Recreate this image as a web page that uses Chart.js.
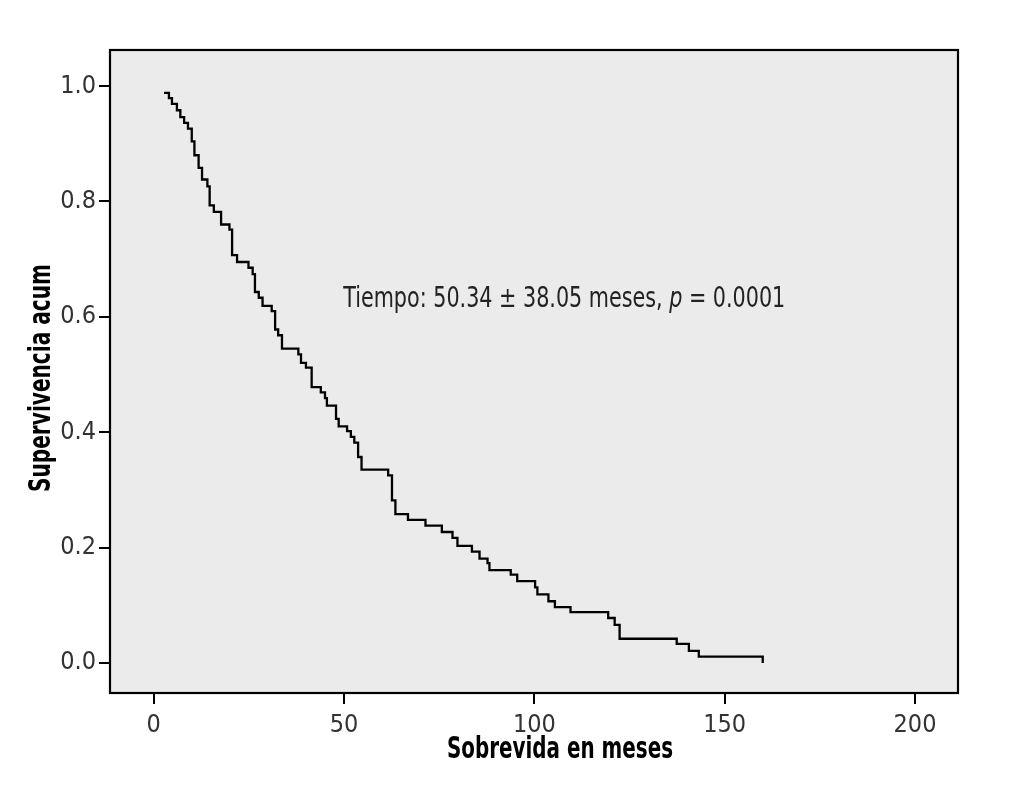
<!DOCTYPE html>
<html>
<head>
<meta charset="utf-8">
<script src="https://cdn.jsdelivr.net/npm/chart.js@4/dist/chart.umd.min.js"></script>
<style>
  html, body { margin: 0; padding: 0; background: #ffffff; }
  #wrap { width: 1029px; height: 795px; position: relative; }
</style>
</head>
<body>
<div id="wrap"><canvas id="c" width="1029" height="795"></canvas></div>
<script>
// Kaplan-Meier step curve (months, cumulative survival)
const months = [2.7, 4.0, 4.8, 6.1, 7.0, 8.0, 9.0, 10.0, 10.7, 11.8, 12.7, 14.1, 14.7, 15.8, 17.7, 19.9, 20.6, 21.9, 24.9, 26.0,
  26.6, 27.6, 28.6, 31.0, 31.9, 32.7, 33.7, 38.0, 38.7, 40.0, 41.5, 43.9, 45.0, 45.5, 47.9, 48.6, 50.8, 51.8, 52.7, 53.7,
  54.6, 61.6, 62.6, 63.5, 66.8, 71.4, 75.7, 78.5, 79.8, 83.6, 85.6, 87.7, 88.2, 93.8, 95.5, 100.2, 100.8, 103.7, 105.4, 109.5,
  119.4, 121.1, 122.4, 137.4, 140.6, 143.2, 160.0];
const survival = [0.988, 0.979, 0.969, 0.958, 0.946, 0.936, 0.926, 0.904, 0.880, 0.858, 0.838, 0.826, 0.793, 0.782, 0.760, 0.751, 0.707, 0.695, 0.685, 0.674,
  0.643, 0.633, 0.619, 0.610, 0.578, 0.568, 0.545, 0.535, 0.520, 0.512, 0.478, 0.469, 0.459, 0.446, 0.423, 0.410, 0.402, 0.392, 0.382, 0.357,
  0.335, 0.325, 0.282, 0.258, 0.248, 0.238, 0.227, 0.217, 0.203, 0.193, 0.181, 0.173, 0.161, 0.153, 0.142, 0.131, 0.119, 0.107, 0.097, 0.088,
  0.078, 0.066, 0.042, 0.033, 0.021, 0.011, 0.0];
const xTicks = [0, 50, 100, 150, 200];
const yTicks = [0.0, 0.2, 0.4, 0.6, 0.8, 1.0];
const xTitle = 'Sobrevida en meses';
const yTitle = 'Supervivencia acum';
const noteParts = ['Tiempo: 50.34 \u00b1 38.05 meses, ', 'p', ' = 0.0001'];
const notePos = { x: 49.8, y: 0.63 };

const points = months.map((m, i) => ({ x: m, y: survival[i] }));
const FONT = '"DejaVu Sans Condensed", "DejaVu Sans", sans-serif';

// draw text horizontally condensed to a target width (emulates a narrow typeface)
function narrowText(ctx, text, cx, cy, targetW) {
  const w = ctx.measureText(text).width;
  const sx = targetW / w;
  ctx.save();
  ctx.translate(cx, cy);
  ctx.scale(sx, 1);
  ctx.textAlign = 'center';
  ctx.fillText(text, 0, 0);
  ctx.restore();
}

const framePlugin = {
  id: 'frame',
  beforeDatasetsDraw(chart) {
    const { ctx, chartArea: a } = chart;
    ctx.save();
    ctx.fillStyle = '#ebebeb';
    ctx.fillRect(a.left, a.top, a.right - a.left, a.bottom - a.top);
    ctx.restore();
  },
  afterDraw(chart) {
    const { ctx, chartArea: a, scales } = chart;
    ctx.save();
    ctx.strokeStyle = '#000';
    ctx.lineWidth = 2.2;
    ctx.strokeRect(a.left, a.top, a.right - a.left, a.bottom - a.top);
    // axis titles
    ctx.fillStyle = '#000';
    ctx.textBaseline = 'middle';
    ctx.font = 'bold 30px ' + FONT;
    narrowText(ctx, xTitle, 560, 750, 226);
    ctx.save();
    ctx.translate(42, 378);
    ctx.rotate(-Math.PI / 2);
    narrowText(ctx, yTitle, 0, 0, 228);
    ctx.restore();
    // annotation
    const px = scales.x.getPixelForValue(notePos.x);
    const py = scales.y.getPixelForValue(notePos.y);
    ctx.fillStyle = '#222';
    let total = 0;
    noteParts.forEach((t, i) => {
      ctx.font = (i === 1 ? 'italic ' : '') + '29px ' + FONT;
      total += ctx.measureText(t).width;
    });
    const sx = 442 / total;
    ctx.translate(px, py);
    ctx.scale(sx, 1);
    ctx.textAlign = 'left';
    let x = 0;
    noteParts.forEach((t, i) => {
      ctx.font = (i === 1 ? 'italic ' : '') + '29px ' + FONT;
      ctx.fillText(t, x, 0);
      x += ctx.measureText(t).width;
    });
    ctx.restore();
  }
};

const chart = new Chart(document.getElementById('c'), {
  type: 'line',
  data: {
    datasets: [{
      data: points,
      borderColor: '#000',
      borderWidth: 2.3,
      pointRadius: 0,
      stepped: true,
      fill: false,
      tension: 0
    }]
  },
  options: {
    responsive: false,
    animation: false,
    devicePixelRatio: 1,
    layout: { padding: { top: 50, right: 71, left: 0, bottom: 0 } },
    plugins: { legend: { display: false }, tooltip: { enabled: false }, title: { display: false } },
    scales: {
      x: {
        type: 'linear',
        min: -11.48,
        max: 211.3,
        afterBuildTicks: (s) => { s.ticks = xTicks.map(v => ({ value: v })); },
        afterFit: (s) => { s.height = 102; },
        border: { display: false },
        grid: { drawOnChartArea: false, drawTicks: true, tickLength: 11, color: '#000', lineWidth: 2 },
        ticks: {
          padding: 6,
          color: '#333',
          font: { family: FONT, size: 25 },
          maxRotation: 0,
          callback: (v) => String(v)
        },
        title: { display: false }
      },
      y: {
        type: 'linear',
        min: -0.052,
        max: 1.0624,
        afterBuildTicks: (s) => { s.ticks = yTicks.map(v => ({ value: v })); },
        afterFit: (s) => { s.width = 110; },
        border: { display: false },
        grid: { drawOnChartArea: false, drawTicks: true, tickLength: 11, color: '#000', lineWidth: 2 },
        ticks: {
          padding: 3,
          color: '#333',
          font: { family: FONT, size: 25 },
          callback: (v) => Number(v).toFixed(1)
        },
        title: { display: false }
      }
    }
  },
  plugins: [framePlugin]
});
</script>
</body>
</html>
